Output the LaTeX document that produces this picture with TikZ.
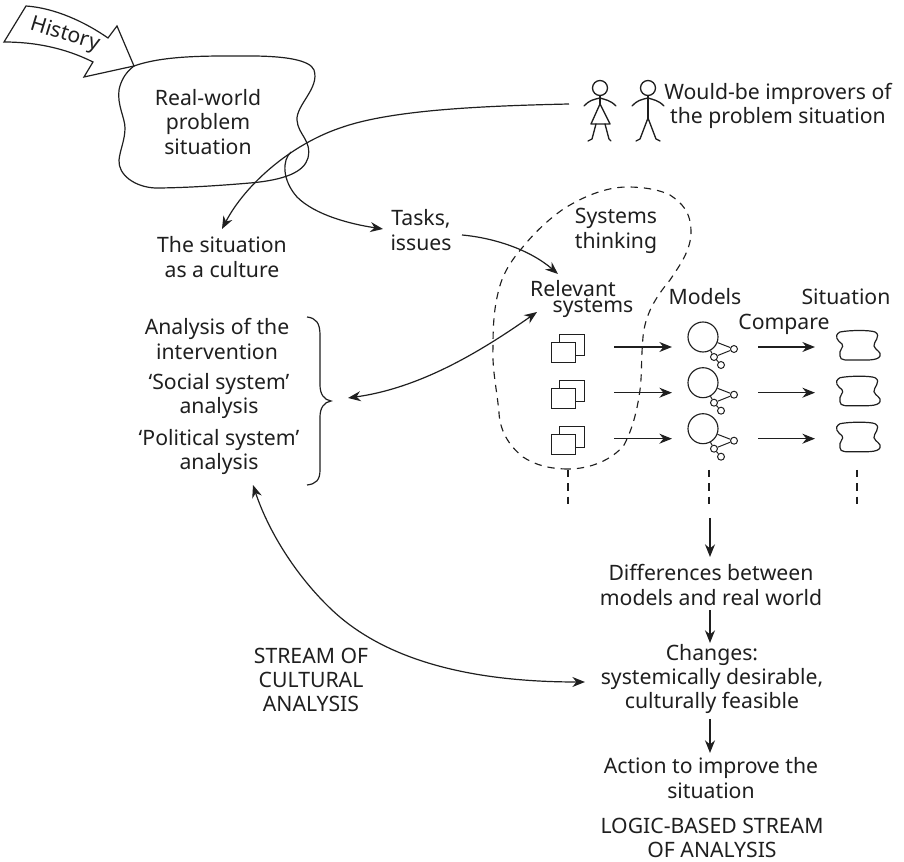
\documentclass[tikz,border=0pt]{standalone}
\usepackage{fontspec}
\setmainfont{Noto Sans}
\usetikzlibrary{arrows.meta}
\definecolor{ink}{gray}{0.12}
\tikzset{
  lbl/.style={align=center,inner sep=0pt,font=\fontsize{15.9pt}{18.3pt}\selectfont,text=ink},
  ln/.style={line width=0.9pt,ink},
  arr/.style={ln,-{Stealth[length=9.5pt,width=7.5pt]}},
  darr/.style={ln,{Stealth[length=9.5pt,width=7.5pt]}-{Stealth[length=9.5pt,width=7.5pt]}},
  dsh/.style={line width=0.85pt,ink,dash pattern=on 5.5pt off 4.5pt},
  fig/.style={line width=1pt,ink,line cap=round,line join=round},
  thinbox/.style={line width=0.75pt,ink,fill=white},
  bigc/.style={circle,draw,line width=0.85pt,ink,minimum size=22.5pt,inner sep=0pt},
  smallc/.style={circle,draw,line width=0.75pt,ink,minimum size=5.2pt,inner sep=0pt},
}
\begin{document}
\begin{tikzpicture}[x=0.75pt,y=-0.75pt]
\useasboundingbox (0,0) rectangle (904,862);
% history arrow
\draw[ln,line join=miter] (26,6) .. controls (55,8) and (85,22) .. (108,38) -- (117,26) -- (134,66) -- (84,77) -- (93,62) .. controls (65,48) and (35,42) .. (4,42) -- cycle;
\node[lbl,rotate=-17] (hist) at (65,35) {History};
% problem blob
\draw[ln] (134,66) .. controls (165,55) and (210,56) .. (250,56)
  .. controls (285,56) and (310,60) .. (314,70)
  .. controls (320,88) and (296,105) .. (297,120)
  .. controls (298,135) and (312,140) .. (308,158)
  .. controls (304,172) and (285,180) .. (250,183)
  .. controls (215,186) and (180,188) .. (155,188)
  .. controls (135,187) and (118,175) .. (119,160)
  .. controls (120,150) and (125,140) .. (125,128)
  .. controls (125,118) and (117,105) .. (119,90)
  .. controls (121,80) and (126,72) .. (134,66) -- cycle;
\node[lbl] (rw) at (208,122) {Real-world\\problem\\situation};
% figures
\begin{scope}[fig]
\draw (600,88) circle (7.5);
\draw (600,96) -- (600,104);
\draw (584,106) .. controls (590,100) and (592,100) .. (600,98) .. controls (606,100) and (610,100) .. (616,106);
\draw (600,104) -- (591,124) -- (610,124) -- cycle;
\draw (596,124) -- (592,139) -- (588,141);
\draw (605,124) -- (609,139) -- (611,141);
\draw (648,88) circle (7.5);
\draw (648,96) -- (648,118);
\draw (632,106) .. controls (638,100) and (640,100) .. (648,98) .. controls (654,100) and (658,100) .. (664,106);
\draw (648,118) -- (640,139) -- (636,141);
\draw (648,118) -- (656,139) -- (660,141);
\end{scope}
\coordinate (imp) at (569,104);
\node[lbl] (would) at (778,106) {Would-be improvers of\\the problem situation};
\node[lbl] (cult) at (222,257) {The situation\\as a culture};
\node[lbl] (tasks) at (421,230) {Tasks,\\issues};
\node[lbl] (st) at (616,231) {Systems\\thinking};
\node[lbl] (rel) at (573,289) {Relevant};
\node[lbl] (sys) at (593,308) {systems};
\node[lbl] (mod) at (705,297) {Models};
\node[lbl] (sit) at (846,297) {Situation};
\node[lbl] (cmp) at (784,324) {Compare};
\node[lbl] (an1) at (217,339) {Analysis of the\\intervention};
\node[lbl] (an2) at (219,396) {‘Social system’\\analysis};
\node[lbl] (an3) at (219,452) {‘Political system’\\analysis};
\node[lbl] (diff) at (711,585) {Differences between\\models and real world};
\node[lbl] (chg) at (712,679) {Changes:\\systemically desirable,\\culturally feasible};
\node[lbl] (act) at (711,778) {Action to improve the\\situation};
\node[lbl] (logic) at (712,838) {LOGIC-BASED STREAM\\OF ANALYSIS};
\node[lbl] (stream) at (311,680) {STREAM OF\\CULTURAL\\ANALYSIS};
% curves
\coordinate (cultTop) at (222,229);
\coordinate (tasksL) at (383,229);
\coordinate (tasksR) at (462,235);
\coordinate (relA) at (558,274);
\coordinate (braceTip) at (348,398);
\coordinate (relB) at (537,312);
\coordinate (anB) at (253,485);
\coordinate (chgL) at (585,682);
\coordinate (loopS) at (291,152);
\draw[arr] (imp) .. controls (480,106) and (390,110) .. (340,128) .. controls (290,145) and (245,185) .. (cultTop);
\draw[arr] (loopS) .. controls (282,160) and (282,180) .. (297,197) .. controls (315,215) and (350,224) .. (tasksL);
\draw[arr] (tasksR) .. controls (495,238) and (530,250) .. (relA);
\draw[darr] (braceTip) .. controls (420,388) and (480,352) .. (relB);
\draw[darr] (anB) .. controls (268,530) and (295,575) .. (332,610) .. controls (385,660) and (470,682) .. (chgL);
% brace
\draw[ln] (307,317) .. controls (316,318) and (320,323) .. (320,335) -- (320,385) .. controls (320,394) and (324,400) .. (331,401) .. controls (324,402) and (320,408) .. (320,417) -- (320,470) .. controls (320,480) and (316,484) .. (307,485);
% dashed region
\draw[dsh] (568,469) .. controls (550,469) and (535,465) .. (523,457) .. controls (508,445) and (500,430) .. (499,413) .. controls (497,390) and (492,370) .. (493,347)
 .. controls (493,325) and (494,310) .. (498,293) .. controls (502,275) and (510,262) .. (522,248) .. controls (535,232) and (548,220) .. (562,210) .. controls (580,198) and (605,187) .. (627,187) .. controls (645,187) and (660,190) .. (670,195) .. controls (682,203) and (691,212) .. (691,232) .. controls (691,250) and (680,265) .. (670,280) .. controls (655,298) and (645,315) .. (643,337) .. controls (641,360) and (642,375) .. (640,390) .. controls (637,412) and (632,430) .. (624,445) .. controls (612,460) and (590,469) .. (568,469);
\foreach \c/\s/\d in {a/568/470,b/709/470,c/857/470}{
  \coordinate (v\c) at (\s,\d);
  \coordinate (w\c) at (\s,506);
  \draw[dsh] (v\c) -- (w\c);
}
% rows
\foreach \i/\o in {1/0,2/45.7,3/91.7}{
\begin{scope}[yshift=-0.75pt*\o]
  \draw[thinbox] (559,335) rectangle (584,356);
  \draw[thinbox] (551,343) rectangle (575,363);
  \coordinate (p\i) at (614,347);
  \coordinate (q\i) at (672,347);
  \coordinate (r\i) at (758,347);
  \coordinate (s\i) at (815,347);
  \draw[arr] (p\i) -- (q\i);
  \draw[arr] (r\i) -- (s\i);
  \node[bigc] (big\i) at (703,337) {};
  \node[smallc] (sa\i) at (734,349) {};
  \node[smallc] (sb\i) at (714,357) {};
  \node[smallc] (sc\i) at (721,365) {};
  \draw[line width=0.75pt,ink] (big\i) -- (sa\i) (sa\i) -- (sb\i) (sb\i) -- (sc\i) (big\i) -- (sb\i);
  \draw[ln] (840,332) .. controls (850,330) and (870,330) .. (875,332)
   .. controls (882,336) and (873,342) .. (874,346) .. controls (875,350) and (882,352) .. (880,356)
   .. controls (878,361) and (865,360) .. (855,360) .. controls (847,360) and (840,361) .. (840,356)
   .. controls (838,350) and (845,347) .. (842,344) .. controls (838,341) and (833,336) .. (840,332) -- cycle;
\end{scope}
}
% vertical arrows
\coordinate (d1) at (710,518);
\coordinate (d2) at (710,557);
\coordinate (e1) at (710,610);
\coordinate (e2) at (710,643);
\coordinate (f1) at (710,719);
\coordinate (f2) at (710,753);
\draw[arr] (d1) -- (d2);
\draw[arr] (e1) -- (e2);
\draw[arr] (f1) -- (f2);
\end{tikzpicture}
\end{document}
